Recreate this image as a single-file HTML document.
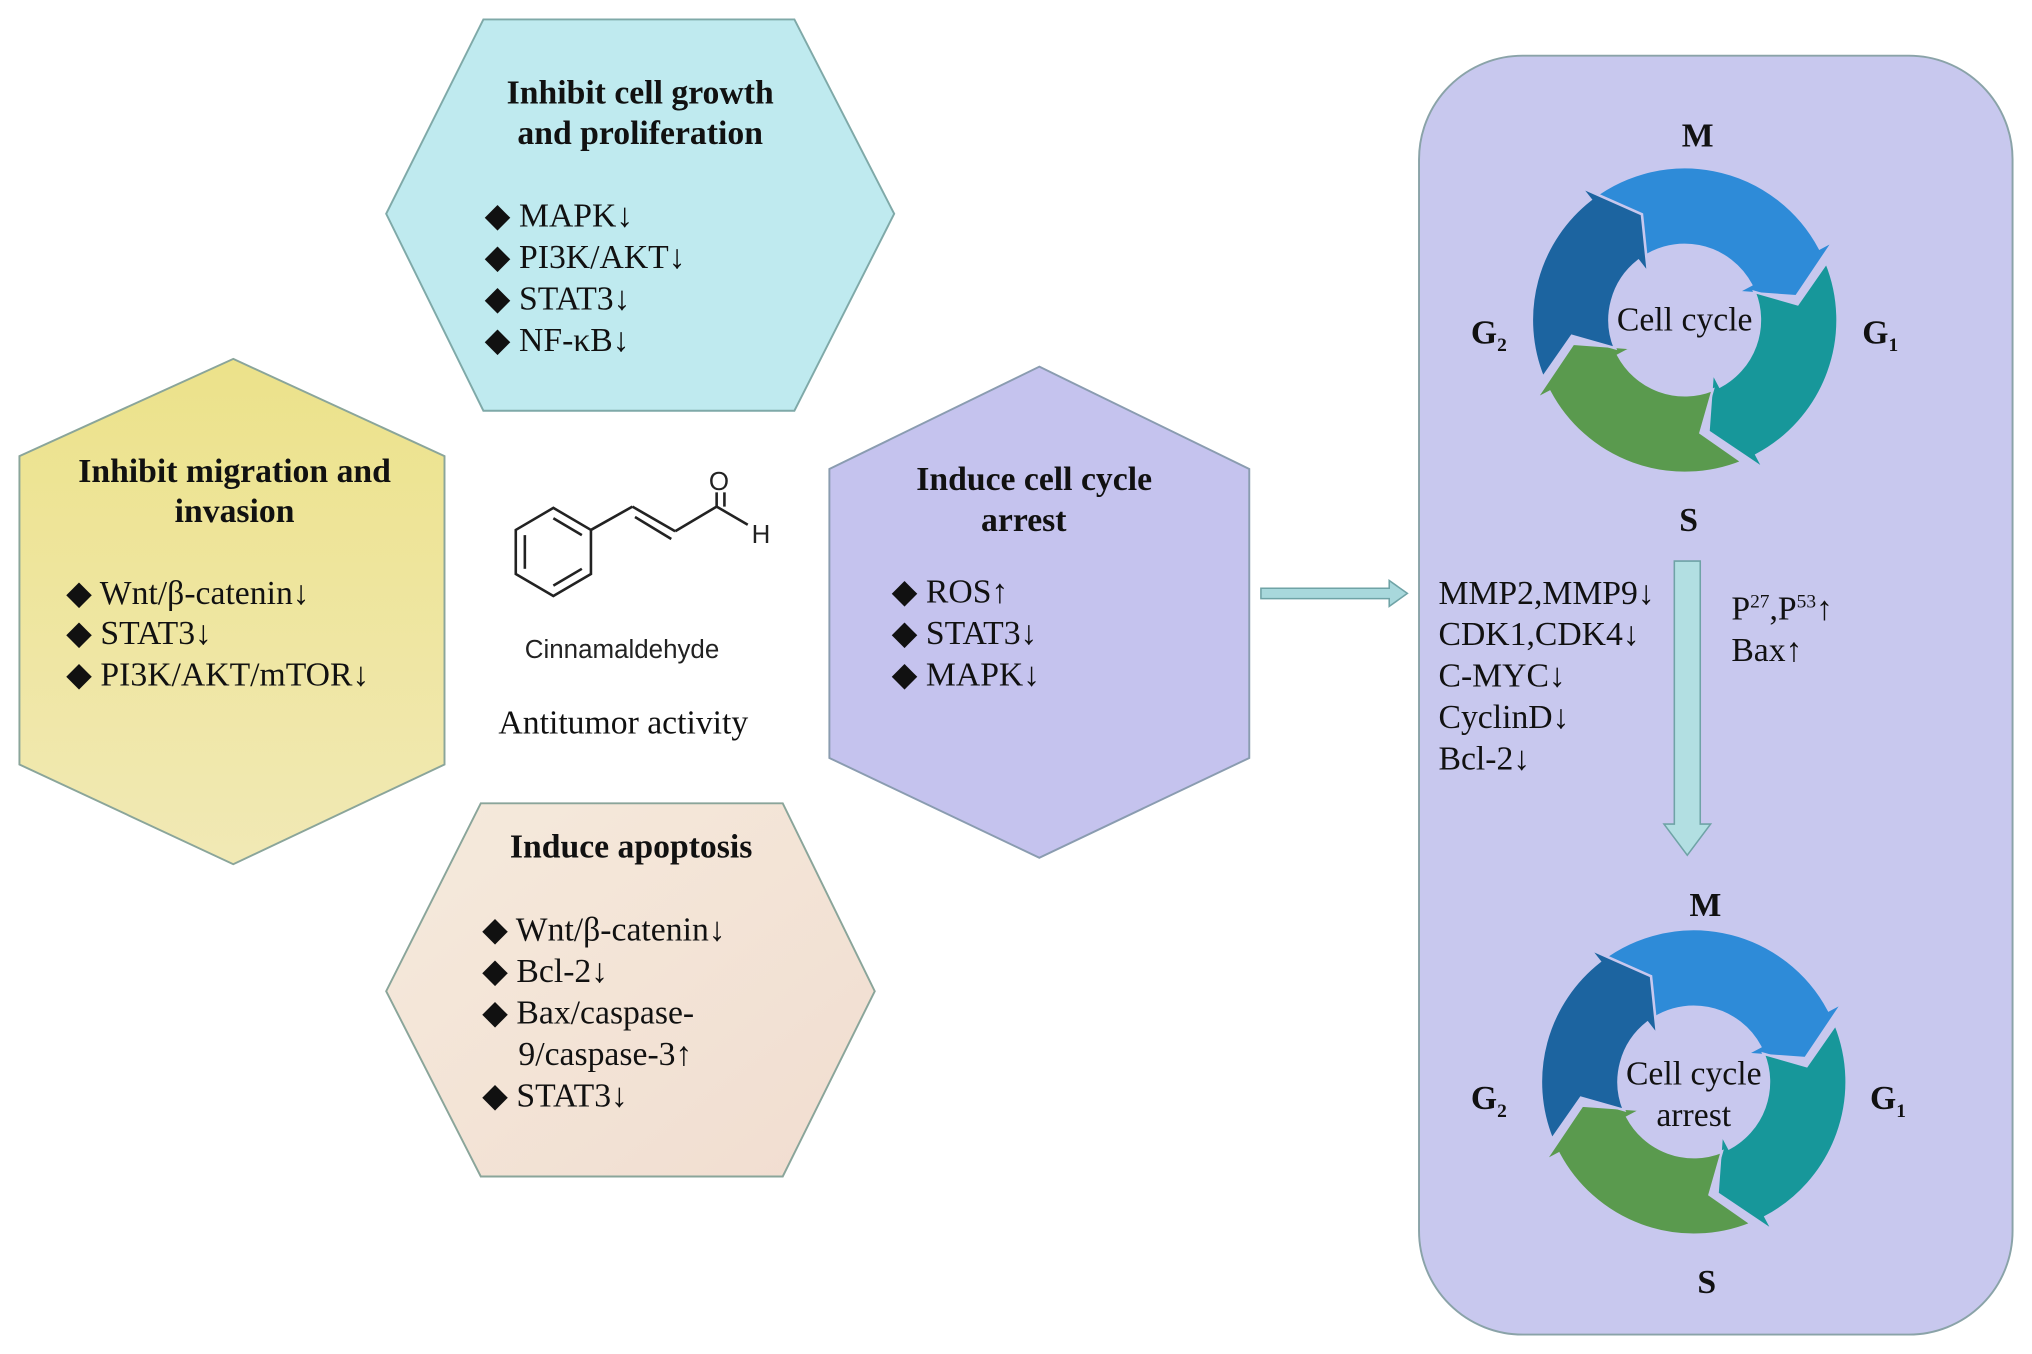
<!DOCTYPE html>
<html><head><meta charset="utf-8"><style>
html,body{margin:0;padding:0;background:#fff;}
svg{display:block;}
text{font-family:"Liberation Serif",serif;fill:#111;}
.t{font-weight:bold;font-size:26px;}
.l{font-size:26px;}
.s{font-family:"Liberation Sans",sans-serif;font-size:20px;fill:#222;}
</style></head><body>
<svg id="s" width="2032" height="1354" viewBox="0 0 1568 1045" preserveAspectRatio="none" xmlns="http://www.w3.org/2000/svg">
<defs>
<linearGradient id="gy" x1="0" y1="0" x2="0" y2="1"><stop offset="0" stop-color="#ece28a"/><stop offset="1" stop-color="#f1e9b5"/></linearGradient>
<linearGradient id="gp" x1="0" y1="0" x2="1" y2="1"><stop offset="0" stop-color="#f5eadc"/><stop offset="1" stop-color="#f1ddd0"/></linearGradient>
</defs>
<polygon points="373,15 613,15 690,165 613,317 373,317 298,165" fill="#bfeaef" stroke="#7fa9a8" stroke-width="1.5"/>
<polygon points="180,277 343,352 343,590 180,667 15,590 15,352" fill="url(#gy)" stroke="#8aa59a" stroke-width="1.5"/>
<polygon points="802,283 964,362 964,585 802,662 640,585 640,362" fill="#c5c3ee" stroke="#8a9cb0" stroke-width="1.5"/>
<polygon points="371,620 604,620 675,765 604,908 371,908 298,765" fill="url(#gp)" stroke="#8aa59a" stroke-width="1.5"/>
<rect x="1095" y="43" width="458" height="987" rx="80" ry="80" fill="#c8c8ee" stroke="#8aa3a8" stroke-width="1.5"/>
<polygon points="973,454 1072,454 1072,448 1086,458 1072,468 1072,462 973,462" fill="#a8d8dc" stroke="#6fa3a6" stroke-width="1.2"/>
<polygon points="1292,433 1312,433 1312,636 1320,636 1302,660 1284,636 1292,636" fill="#b2dfe2" stroke="#6fa3a6" stroke-width="1.2"/>
<g id="c1"></g><g id="c2"></g>
<text class="t" x="494" y="80" text-anchor="middle">Inhibit cell growth</text>
<text class="t" x="494" y="111" text-anchor="middle">and proliferation</text>
<text class="l" x="374" y="175">◆ MAPK↓</text>
<text class="l" x="374" y="207">◆ PI3K/AKT↓</text>
<text class="l" x="374" y="239">◆ STAT3↓</text>
<text class="l" x="374" y="271">◆ NF-κB↓</text>
<text class="t" x="181" y="372" text-anchor="middle">Inhibit migration and</text>
<text class="t" x="181" y="403" text-anchor="middle">invasion</text>
<text class="l" x="51" y="466">◆ Wnt/β-catenin↓</text>
<text class="l" x="51" y="497">◆ STAT3↓</text>
<text class="l" x="51" y="529">◆ PI3K/AKT/mTOR↓</text>
<text class="t" x="798" y="378" text-anchor="middle">Induce cell cycle</text>
<text class="t" x="790" y="410" text-anchor="middle">arrest</text>
<text class="l" x="688" y="465">◆ ROS↑</text>
<text class="l" x="688" y="497">◆ STAT3↓</text>
<text class="l" x="688" y="529">◆ MAPK↓</text>
<text class="t" x="487" y="662" text-anchor="middle">Induce apoptosis</text>
<text class="l" x="372" y="726">◆ Wnt/β-catenin↓</text>
<text class="l" x="372" y="758">◆ Bcl-2↓</text>
<text class="l" x="372" y="790">◆ Bax/caspase-</text>
<text class="l" x="400" y="822">9/caspase-3↑</text>
<text class="l" x="372" y="854">◆ STAT3↓</text>
<g stroke="#222" stroke-width="2" fill="none">
<polygon points="427,392 456,409 456,443 427,460 398,443 398,409"/>
<line x1="405" y1="413" x2="405" y2="439"/><line x1="449" y1="439" x2="427" y2="452"/><line x1="427" y1="400" x2="449" y2="413"/>
<line x1="456" y1="409" x2="488" y2="391"/><line x1="488" y1="391" x2="521" y2="410"/><line x1="490" y1="399" x2="518" y2="416"/>
<line x1="521" y1="410" x2="553" y2="391"/><line x1="553" y1="391" x2="553" y2="380"/><line x1="559" y1="391" x2="559" y2="380"/>
<line x1="553" y1="391" x2="577" y2="405"/>
</g>
<text class="s" x="547" y="378">O</text>
<text class="s" x="580" y="419">H</text>
<text class="s" x="480" y="508" text-anchor="middle">Cinnamaldehyde</text>
<text class="l" x="481" y="566" text-anchor="middle">Antitumor activity</text>
<text class="t" x="1310" y="113" text-anchor="middle">M</text>
<text class="t" x="1135" y="265">G<tspan font-size="15" dy="6">2</tspan></text>
<text class="t" x="1437" y="265">G<tspan font-size="15" dy="6">1</tspan></text>
<text class="t" x="1303" y="410" text-anchor="middle">S</text>
<text class="l" x="1300" y="255" text-anchor="middle">Cell cycle</text>
<text class="l" x="1110" y="466">MMP2,MMP9↓</text>
<text class="l" x="1110" y="498">CDK1,CDK4↓</text>
<text class="l" x="1110" y="530">C-MYC↓</text>
<text class="l" x="1110" y="562">CyclinD↓</text>
<text class="l" x="1110" y="594">Bcl-2↓</text>
<text class="l" x="1336" y="478">P<tspan font-size="15" dy="-9">27</tspan><tspan dy="9">,P</tspan><tspan font-size="15" dy="-9">53</tspan><tspan dy="9">↑</tspan></text>
<text class="l" x="1336" y="510">Bax↑</text>
<text class="t" x="1316" y="707" text-anchor="middle">M</text>
<text class="t" x="1135" y="856">G<tspan font-size="15" dy="6">2</tspan></text>
<text class="t" x="1443" y="856">G<tspan font-size="15" dy="6">1</tspan></text>
<text class="t" x="1317" y="998" text-anchor="middle">S</text>
<text class="l" x="1307" y="837" text-anchor="middle">Cell cycle</text>
<text class="l" x="1307" y="869" text-anchor="middle">arrest</text>
</svg>
<script>
function ring(id,cx,cy){
 var R=118,r=58,m=(R+r)/2,g=document.getElementById(id),out='';
 var segs=[[-40,62,'#2e8bd8'],[68,152,'#17979a'],[158,242,'#5a9a4e'],[248,322,'#1c64a0']];
 function p(rad,a){var t=(a-90)*Math.PI/180;return (cx+rad*Math.cos(t)).toFixed(1)+','+(cy+rad*Math.sin(t)).toFixed(1);}
 segs.forEach(function(s){
  var a0=s[0],a1=s[1];
  var d='M'+p(R,a0)+' A'+R+','+R+' 0 0 1 '+p(R,a1)+' L'+p(R+12,a1)+' L'+p(m,a1+16)+' L'+p(r-12,a1)+' L'+p(r,a1)+' A'+r+','+r+' 0 0 0 '+p(r,a0)+' L'+p(m,a0+14)+' Z';
  out+='<path d="'+d+'" fill="'+s[2]+'" stroke="#c8c8ee" stroke-width="2"/>';
 });
 g.innerHTML=out;
}
ring('c1',1300,247);ring('c2',1307,835);
</script>
</body></html>
